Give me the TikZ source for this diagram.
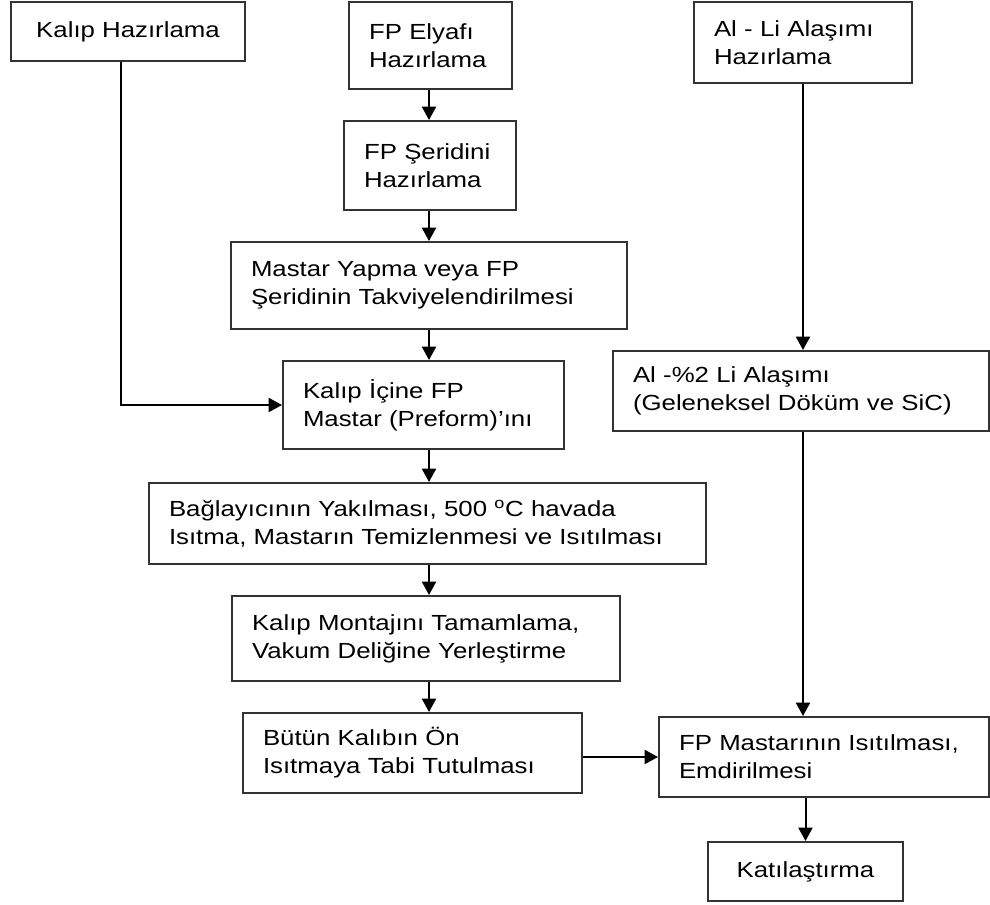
\documentclass[tikz,border=0pt]{standalone}
\usepackage{fontspec}
\setmainfont[FakeStretch=1.18]{Liberation Sans}
\usetikzlibrary{arrows.meta}
\begin{document}
\begin{tikzpicture}[x=0.75pt, y=-0.75pt,
  box/.style={draw=black!80, line width=1.5pt, rectangle, inner xsep=15pt, align=left},
  cbox/.style={draw=black!80, line width=1.5pt, rectangle, align=center},
  arr/.style={line width=1.5pt, -{Triangle[length=10pt, width=10.5pt]}}]
  \fontsize{16.4}{21}\selectfont
  \useasboundingbox (0,0) rectangle (990,905);
  \node[cbox, minimum width=175.5pt, minimum height=44.25pt] (kalip) at (128,31.5) {Kalıp Hazırlama};
  \node[box, text width=92.25pt, minimum height=65.25pt] (elyaf) at (430.5,45.5) {FP Elyafı\\Hazırlama};
  \node[box, text width=133.5pt, minimum height=60.75pt] (alli) at (803,42.5) {Al - Li Alaşımı\\Hazırlama};
  \node[box, text width=99pt, minimum height=66.75pt] (serit) at (430,165.5) {FP Şeridini\\Hazırlama};
  \node[box, text width=267pt, minimum height=65.25pt] (mastar) at (429,285.5) {Mastar Yapma veya FP\\Şeridinin Takviyelendirilmesi};
  \node[box, text width=180.75pt, minimum height=66pt] (icine) at (423.5,405) {Kalıp İçine FP\\Mastar (Preform)’ını};
  \node[box, text width=252pt, minimum height=60pt] (ali2) at (801,391) {Al -\%2 Li Alaşımı\\(Geleneksel Döküm ve SiC)};
  \node[box, text width=387.75pt, minimum height=60.75pt] (bag) at (427.5,523.5) {Bağlayıcının Yakılması, 500 \textsuperscript{o}C havada\\Isıtma, Mastarın Temizlenmesi ve Isıtılması};
  \node[box, text width=261pt, minimum height=63.75pt] (montaj) at (426,638.5) {Kalıp Montajını Tamamlama,\\Vakum Deliğine Yerleştirme};
  \node[box, text width=224.25pt, minimum height=60pt] (butun) at (412.5,753) {Bütün Kalıbın Ön\\Isıtmaya Tabi Tutulması};
  \node[box, text width=217.5pt, minimum height=60pt] (emdir) at (824,757) {FP Mastarının Isıtılması,\\Emdirilmesi};
  \node[cbox, minimum width=146.25pt, minimum height=44.25pt] (kati) at (805.5,871.5) {Katılaştırma};
  \draw[arr] (elyaf.south -| mastar.south) -- (serit.north -| mastar.south);
  \draw[arr] (serit.south -| mastar.south) -- (mastar.north);
  \draw[arr] (mastar.south) -- (icine.north -| mastar.south);
  \draw[arr] (icine.south -| mastar.south) -- (bag.north -| mastar.south);
  \draw[arr] (bag.south -| mastar.south) -- (montaj.north -| mastar.south);
  \draw[arr] (montaj.south -| mastar.south) -- (butun.north -| mastar.south);
  \draw[arr] ([xshift=-5pt]kalip.south) |- (icine.west);
  \draw[arr] (alli.south) -- (ali2.north -| alli.south);
  \draw[arr] (ali2.south -| alli.south) -- (emdir.north -| alli.south);
  \draw[arr] (butun.east |- emdir.west) -- (emdir.west);
  \draw[arr] (emdir.south -| kati.north) -- (kati.north);
\end{tikzpicture}
\end{document}
